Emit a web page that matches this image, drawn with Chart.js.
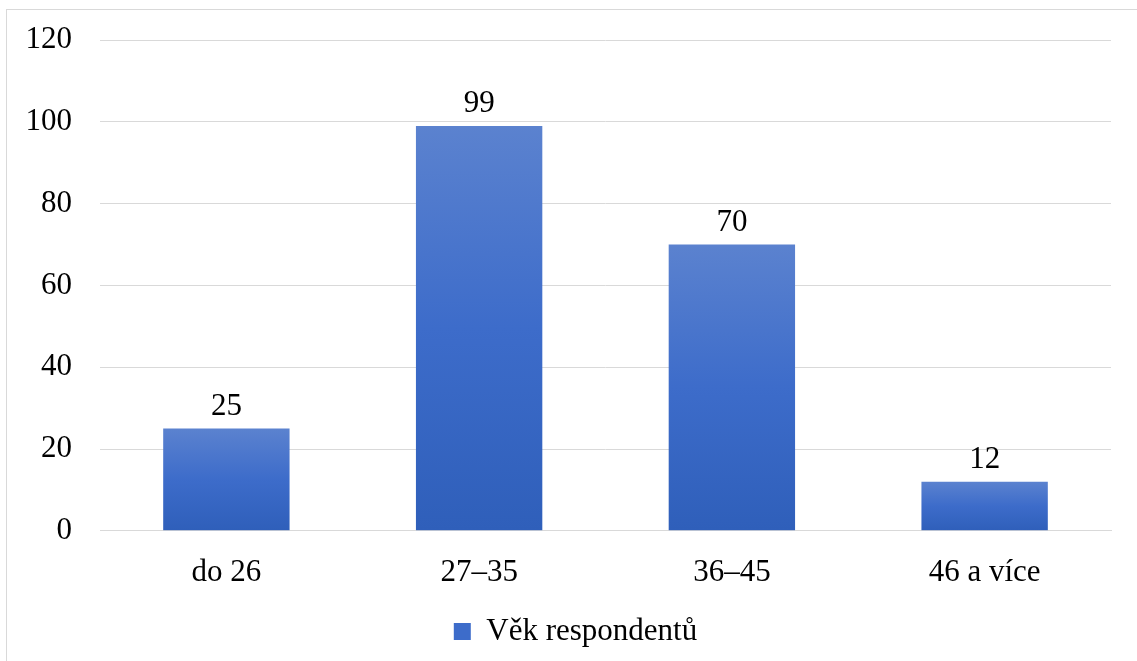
<!DOCTYPE html>
<html>
<head>
<meta charset="utf-8">
<script src="https://cdn.jsdelivr.net/npm/chart.js@4"></script>
<style>
  html, body { margin: 0; padding: 0; background: #fff; overflow: hidden; }
  .frame { position: absolute; left: 6px; top: 9px; width: 1140px; height: 660px; border: 1px solid #d9d9d9; box-sizing: border-box; }
  .wrap { position: absolute; left: 0; top: 0; width: 1137px; height: 661px; }
</style>
</head>
<body>
<div class="frame"></div>
<div class="wrap"><canvas id="chart"></canvas></div>
<script>
// Age groups of respondents
const categories = ["do 26", "27–35", "36–45", "46 a více"];
const counts = [25, 99, 70, 12];
const seriesName = "Věk respondentů";
const yTicks = [0, 20, 40, 60, 80, 100, 120];

const FONT = "'Liberation Serif', 'Times New Roman', serif";
const FSIZE = 31;

// Excel-like vertical gradient per bar (options object is shared, so copy it per bar)
const barGradient = {
  id: 'barGradient',
  beforeDatasetsDraw(chart) {
    const ctx = chart.ctx;
    const meta = chart.getDatasetMeta(0);
    meta.data.forEach(el => {
      const g = ctx.createLinearGradient(0, el.y, 0, el.base);
      g.addColorStop(0, '#5b82cf');
      g.addColorStop(0.5, '#3d6cca');
      g.addColorStop(1, '#2f5fba');
      el.options = Object.assign({}, el.options, { backgroundColor: g });
    });
  }
};

// Value labels above each bar
const valueLabels = {
  id: 'valueLabels',
  afterDatasetsDraw(chart) {
    const ctx = chart.ctx;
    const meta = chart.getDatasetMeta(0);
    ctx.save();
    ctx.font = FSIZE + "px " + FONT;
    ctx.fillStyle = '#000';
    ctx.textAlign = 'center';
    ctx.textBaseline = 'alphabetic';
    meta.data.forEach((el, i) => {
      ctx.fillText(String(counts[i]), el.x, el.y - 14);
    });
    ctx.restore();
  }
};

// legend in the original sits centred on the whole frame, not the plot
const legendShift = {
  id: 'legendShift',
  afterLayout(chart) {
    if (chart.legend) {
      chart.legend.left += 20;
      chart.legend.right += 20;
    }
  }
};

new Chart(document.getElementById('chart'), {
  type: 'bar',
  data: {
    labels: categories,
    datasets: [{
      label: seriesName,
      data: counts,
      backgroundColor: '#4472c4',
      borderWidth: 0,
      barPercentage: 0.5,
      categoryPercentage: 1.0
    }]
  },
  options: {
    responsive: true,
    maintainAspectRatio: false,
    animation: false,
    layout: { padding: { top: 40, right: 26, left: 0, bottom: 4 } },
    plugins: {
      legend: {
        position: 'bottom',
        labels: {
          color: '#000',
          font: { family: FONT, size: FSIZE },
          boxWidth: 17,
          boxHeight: 17,
          padding: 2,
          generateLabels: () => [{
            text: seriesName,
            fillStyle: '#3d6cca',
            strokeStyle: '#3d6cca',
            lineWidth: 0,
            datasetIndex: 0
          }]
        }
      },
      tooltip: { enabled: false }
    },
    scales: {
      x: {
        grid: { display: false, drawTicks: false },
        border: { display: true, color: '#d9d9d9', width: 1 },
        ticks: { color: '#000', font: { family: FONT, size: FSIZE }, padding: 23, maxRotation: 0 }
      },
      y: {
        min: 0,
        max: 120,
        afterFit(scale) {
          scale.width = 100;
          scale.paddingTop = 0;
          scale.paddingBottom = 0;
        },
        afterBuildTicks(scale) { scale.ticks = yTicks.map(v => ({ value: v })); },
        grid: { color: '#d9d9d9', lineWidth: 1, drawTicks: false },
        border: { display: false },
        ticks: { color: '#000', font: { family: FONT, size: FSIZE }, padding: 28 }
      }
    }
  },
  plugins: [barGradient, valueLabels, legendShift]
});
</script>
</body>
</html>
